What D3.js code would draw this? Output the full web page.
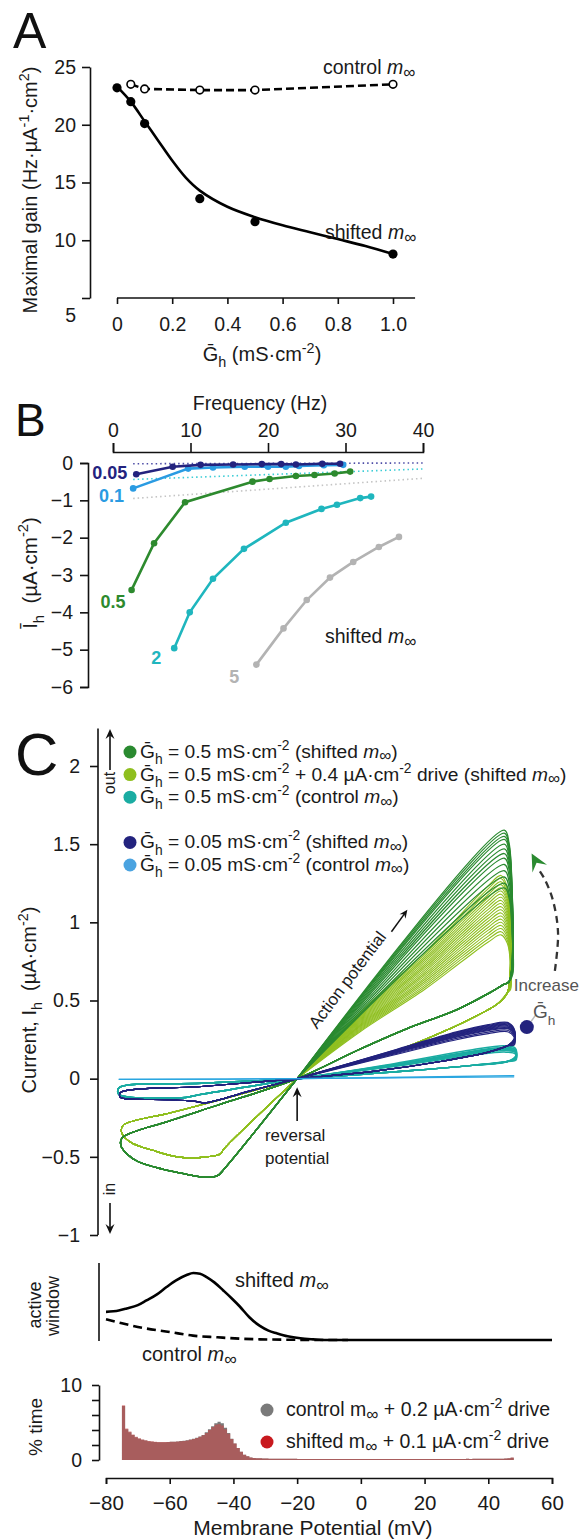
<!DOCTYPE html>
<html><head><meta charset="utf-8">
<script src="https://cdn.jsdelivr.net/npm/d3@7"></script>
<style>
body{margin:0;background:#fff}
svg{display:block;font-family:"Liberation Sans",Arial,Helvetica,sans-serif}
text{white-space:pre}
</style></head><body>
<script>
// ---- panel A : maximal gain vs Gh
const gainG = [0, 0.05, 0.1, 0.3, 0.5, 1.0];
const gainShifted = [23.2, 22.0, 20.1, 13.6, 11.6, 8.8];
const gainControlG = [0.05, 0.1, 0.3, 0.5, 1.0];
const gainControl = [23.5, 23.1, 23.0, 23.0, 23.5];
const fitG = [0, 0.05, 0.1, 0.15, 0.2, 0.25, 0.3, 0.4, 0.5, 0.6, 0.7, 0.8, 0.9, 1.0];
const fitGain = [23.3, 22.0, 20.3, 18.6, 16.9, 15.4, 14.3, 12.9, 12.0, 11.3, 10.7, 10.1, 9.5, 8.8];

// ---- panel B : mean Ih vs frequency
const ihSeries = [
    { label: "0.05", color: "#23237e", f: [3.0, 7.7, 11.3, 15.5, 19.2, 21.7, 23.6, 27.0, 29.3], ih: [-0.3, -0.1, -0.05, -0.04, -0.03, -0.03, -0.04, -0.02, -0.02] },
    { label: "0.1", color: "#2a9be2", f: [2.6, 9.7, 12.9, 17.0, 20.0, 22.3, 24.0, 27.2, 29.7], ih: [-0.68, -0.15, -0.12, -0.1, -0.1, -0.1, -0.08, -0.06, -0.05] },
    { label: "0.5", color: "#2d8a2e", f: [2.4, 5.3, 9.3, 18.0, 20.2, 23.6, 26.0, 28.6, 30.6], ih: [-3.4, -2.15, -1.05, -0.5, -0.43, -0.35, -0.32, -0.28, -0.23] },
    { label: "2", color: "#1fb6be", f: [7.9, 9.9, 12.9, 16.9, 22.3, 26.9, 28.9, 31.9, 33.3], ih: [-4.96, -4.0, -3.1, -2.3, -1.6, -1.23, -1.12, -0.94, -0.9] },
    { label: "5", color: "#b3b3b3", f: [18.5, 22.0, 25.0, 28.0, 31.0, 34.3, 36.9], ih: [-5.4, -4.43, -3.67, -3.07, -2.65, -2.25, -1.98] }
];
const ihRefLines = [
    { color: "#4c4ca6", f: [2.6, 40], ih: [-0.02, 0.0] },
    { color: "#3ccdd6", f: [2.6, 40], ih: [-0.44, -0.16] },
    { color: "#c4c4c4", f: [2.6, 40], ih: [-0.95, -0.41] }
];

// ---- panel C : Ih - V trajectories (profile scaled by each cycle's peak, then a fixed return path)
const ivTraces = [
    { name: "g05drive", color: "#8fbf1f", width: 1.1,
      profile: [[-20, 0], [0, 0.33], [20, 0.62], [32, 0.82], [40, 0.95], [44, 1], [46, 0.94], [47, 0.78], [47, 0.62]],
      back: [[46, 0.55], [43, 0.48], [38, 0.42], [28, 0.32], [10, 0.17], [-20, 0], [-45, -0.14], [-60, -0.22], [-74.7, -0.3],
             [-75, -0.35], [-72, -0.41], [-65, -0.46], [-57.7, -0.5], [-48.3, -0.5], [-44, -0.48], [-43, -0.45], [-20, 0]],
      peaks: [1.3, 1.28, 1.26, 1.24, 1.22, 1.2, 1.18, 1.16, 1.14, 1.12, 1.1, 1.08, 1.06, 1.04, 1.02, 1.0, 0.98, 0.96, 0.94, 0.92] },
    { name: "g05shifted", color: "#2a8a30", width: 1.3,
      profile: [[-20, 0], [45, 1], [46.5, 0.95], [47.5, 0.75], [47.7, 0.55]],
      back: [[46.5, 0.62], [44.6, 0.6], [40.5, 0.55], [30, 0.44], [14.5, 0.32], [-1.2, 0.18], [-20, 0], [-45, -0.17], [-60, -0.27], [-75, -0.38],
             [-75.3, -0.43], [-73.5, -0.48], [-70, -0.53], [-62, -0.58], [-55, -0.61], [-49, -0.63], [-45, -0.62], [-43, -0.58], [-20, 0]],
      peaks: [1.59, 1.57, 1.55, 1.53, 1.5, 1.47, 1.44, 1.41, 1.37, 1.33, 1.29, 1.25, 1.22] },
    { name: "g05control", color: "#1aaca2", width: 1.5,
      profile: [[-20, 0], [10, 0.45], [35, 0.88], [45, 1], [48.5, 0.93], [48.7, 0.7]],
      back: [[46, 0.11], [35, 0.085], [15, 0.05], [-20, 0], [-50, -0.03], [-76, -0.06],
             [-76, -0.1], [-72, -0.12], [-62, -0.125], [-55, -0.12], [-50, -0.1], [-35, -0.05], [-20, 0]],
      peaks: [0.21, 0.2, 0.195, 0.19, 0.185, 0.18, 0.17] },
    { name: "g005shifted", color: "#23237e", width: 1.2,
      profile: [[-20, 0], [10, 0.5], [30, 0.83], [40, 0.96], [46, 1], [48, 0.9], [48.2, 0.72]],
      back: [[46, 0.21], [40, 0.17], [25, 0.11], [5, 0.05], [-20, 0], [-50, -0.05], [-75.5, -0.09],
             [-75.5, -0.12], [-72, -0.13], [-60, -0.135], [-52, -0.145], [-49, -0.155], [-35, -0.08], [-20, 0]],
      peaks: [0.36, 0.355, 0.35, 0.345, 0.34, 0.335, 0.33, 0.325, 0.32, 0.31, 0.30] },
    { name: "g005control", color: "#2aa6e0", width: 1.3,
      profile: [[-20, 0], [48, 1]],
      back: [[-20, 0], [-76, -0.005]],
      peaks: [0.02, 0.012] }
];
const ivLegend = [
    { color: "#2a8a30", parts: [" = 0.5 mS·cm", "-2", " (shifted ", "sh"] },
    { color: "#8fbf1f", parts: [" = 0.5 mS·cm", "-2", " + 0.4 µA·cm", "-2", " drive (shifted ", "sh"] },
    { color: "#1aaca2", parts: [" = 0.5 mS·cm", "-2", " (control ", "sh"] },
    null,
    { color: "#23237e", parts: [" = 0.05 mS·cm", "-2", " (shifted ", "sh"] },
    { color: "#4aa3e0", parts: [" = 0.05 mS·cm", "-2", " (control ", "sh"] }
];

// ---- active window
const winV = [-80, -76, -73.5, -70, -67.3, -64, -61, -58, -54.7, -52.6, -50.5, -48.4, -46, -43.2, -40.5, -38, -35, -31.7, -29, -26.4, -23, -19, -15, -10.8, 0, 20, 40, 60];
const winShifted = [0.42, 0.44, 0.47, 0.52, 0.59, 0.68, 0.79, 0.89, 0.97, 1.0, 0.99, 0.94, 0.86, 0.74, 0.62, 0.5, 0.34, 0.21, 0.14, 0.10, 0.055, 0.025, 0.01, 0, 0, 0, 0, 0];
const winCtlV = [-80, -75, -68.4, -60, -52.7, -45, -38, -31.7, -25, -18, -10, -4];
const winControl = [0.31, 0.25, 0.18, 0.12, 0.065, 0.04, 0.02, 0.01, 0.005, 0.002, 0, 0];

// ---- % time histograms, 1 mV bins starting at -75 mV (last bin 47 mV)
const binStart = -75;
const pctShifted = [7.3, 4.2, 3.8, 3.4, 3.1, 2.9, 2.75, 2.65, 2.55, 2.5, 2.45, 2.4, 2.4, 2.4, 2.4, 2.42, 2.45, 2.48, 2.5,
    2.55, 2.6, 2.7, 2.8, 2.95, 3.1, 3.3, 3.6, 4.0, 4.4, 4.7, 4.8, 4.6, 4.1, 3.5, 2.8, 2.2, 1.6, 1.1, 0.7, 0.5, 0.35, 0.28, 0.24, 0.22, 0.2, 0.19,
    0.18, 0.18, 0.17, 0.17, 0.17, 0.16, 0.16, 0.16, 0.16, 0.15, 0.15, 0.15, 0.15, 0.15, 0.15, 0.14, 0.15, 0.14, 0.14, 0.14,
    0.14, 0.14, 0.14, 0.13, 0.14, 0.13, 0.14, 0.13, 0.13, 0.14, 0.13, 0.13, 0.14, 0.13, 0.13, 0.13, 0.14, 0.13, 0.13, 0.14,
    0.13, 0.14, 0.13, 0.14, 0.14, 0.13, 0.14, 0.14, 0.14, 0.13, 0.14, 0.14, 0.15, 0.14, 0.14, 0.15, 0.14, 0.15, 0.15, 0.15,
    0.15, 0.15, 0.16, 0.15, 0.16, 0.16, 0.16, 0.16, 0.16, 0.17, 0.17, 0.17, 0.17, 0.18, 0.19, 0.22, 0.35];
const pctControl = [7.2, 4.1, 3.7, 3.35, 3.05, 2.85, 2.7, 2.6, 2.5, 2.45, 2.4, 2.38, 2.38, 2.38, 2.4, 2.42, 2.45, 2.48, 2.52,
    2.57, 2.63, 2.72, 2.83, 2.98, 3.15, 3.35, 3.7, 4.1, 4.5, 4.9, 5.1, 4.9, 4.3, 3.6, 2.85, 2.2, 1.6, 1.1, 0.7, 0.5, 0.35, 0.28, 0.24, 0.22, 0.2, 0.19,
    0.18, 0.18, 0.17, 0.17, 0.17, 0.16, 0.16, 0.16, 0.16, 0.15, 0.15, 0.15, 0.15, 0.15, 0.15, 0.14, 0.15, 0.14, 0.14, 0.14,
    0.14, 0.14, 0.14, 0.13, 0.14, 0.13, 0.14, 0.13, 0.13, 0.14, 0.13, 0.13, 0.14, 0.13, 0.13, 0.13, 0.14, 0.13, 0.13, 0.14,
    0.13, 0.14, 0.13, 0.14, 0.14, 0.13, 0.14, 0.14, 0.14, 0.13, 0.14, 0.14, 0.15, 0.14, 0.14, 0.15, 0.14, 0.15, 0.15, 0.15,
    0.15, 0.15, 0.16, 0.15, 0.16, 0.16, 0.16, 0.16, 0.16, 0.17, 0.17, 0.17, 0.17, 0.18, 0.19, 0.22, 0.3];

const svg = d3.select("body").append("svg").attr("width", 583).attr("height", 1540);
const INK = "#111";
const TXT = "#1a1a1a";

// rich text: parts are [text, kind] where kind is "", i, sub, sup, inf
const rich = function (t, parts, fs) {
    let off = 0;
    parts.forEach(p => {
        let target = 0, size = fs;
        if (p[1] === "sub") { target = fs * 0.32; size = fs * 0.72; }
        if (p[1] === "sup") { target = -fs * 0.42; size = fs * 0.72; }
        if (p[1] === "inf") { target = fs * 0.18; size = fs * 0.88; }
        let ts = t.append("tspan").text(p[0]).attr("font-size", size);
        if (target - off !== 0) ts.attr("dy", target - off);
        if (p[1] === "i") ts.attr("font-style", "italic");
        off = target;
    });
    return t;
}
const minf = [["m", "i"], ["∞", "inf"]];

const style_axis = function (g, fs) {
    g.attr("font-family", null).attr("font-size", fs);
    g.selectAll("line,path").attr("stroke", INK).attr("stroke-width", 1.6);
    g.selectAll("text").attr("fill", TXT);
}

const panel_label = (txt, x, y, fs) => svg.append("text").attr("x", x).attr("y", y)
    .attr("font-size", fs).attr("fill", "#111").text(txt);

// ================= A =================
panel_label("A", 13, 48, 50);
let xA = d3.scaleLinear().domain([0, 1]).range([117, 393]);
let yA = d3.scaleLinear().domain([5, 25]).range([298, 67]);

let gxA = svg.append("g").attr("transform", `translate(0,${yA(5)})`)
    .call(d3.axisBottom(xA).tickValues([0, 0.2, 0.4, 0.6, 0.8, 1]).tickFormat(d => d === 0 ? "0" : d3.format(".1f")(d))
        .tickSize(6).tickSizeOuter(0).tickPadding(13));
gxA.select(".domain").remove();
gxA.append("line").attr("x1", xA(0)).attr("x2", xA(1.08));
style_axis(gxA, 19.5);

let gyA = svg.append("g").attr("transform", `translate(90,0)`)
    .call(d3.axisLeft(yA).tickValues([5, 10, 15, 20, 25]).tickSize(8).tickSizeOuter(0).tickPadding(6));
gyA.selectAll(".tick").filter(d => d === 5).select("text").attr("dy", "1.2em");
style_axis(gyA, 19.5);

rich(svg.append("text").attr("text-anchor", "middle").attr("transform", "translate(37,190) rotate(-90)").attr("fill", TXT),
    [["Maximal gain (Hz·µA", ""], ["-1", "sup"], ["·cm", ""], ["2", "sup"], [")", ""]], 20);
rich(svg.append("text").attr("text-anchor", "middle").attr("x", 262).attr("y", 361).attr("fill", TXT),
    [["Ḡ", ""], ["h", "sub"], [" (mS·cm", ""], ["-2", "sup"], [")", ""]], 20);

svg.append("path").datum(fitG.map((g, i) => [g, fitGain[i]]))
    .attr("fill", "none").attr("stroke", "#000").attr("stroke-width", 2.6)
    .attr("d", d3.line().x(d => xA(d[0])).y(d => yA(d[1])).curve(d3.curveCatmullRom.alpha(0.5)));
svg.append("path").datum(gainControlG.map((g, i) => [g, gainControl[i]]))
    .attr("fill", "none").attr("stroke", "#000").attr("stroke-width", 2.6).attr("stroke-dasharray", "8,4")
    .attr("d", d3.line().x(d => xA(d[0])).y(d => yA(d[1])));
svg.selectAll(".ptA").data(gainG.map((g, i) => [g, gainShifted[i]])).join("circle")
    .attr("cx", d => xA(d[0])).attr("cy", d => yA(d[1])).attr("r", 4.6).attr("fill", "#000");
svg.selectAll(".ptAo").data(gainControlG.map((g, i) => [g, gainControl[i]])).join("circle")
    .attr("cx", d => xA(d[0])).attr("cy", d => yA(d[1])).attr("r", 3.8)
    .attr("fill", "#fff").attr("stroke", "#000").attr("stroke-width", 1.6);
rich(svg.append("text").attr("x", 323).attr("y", 74).attr("fill", TXT), [["control ", ""], ...minf], 19.5);
rich(svg.append("text").attr("x", 325).attr("y", 239).attr("fill", TXT), [["shifted ", ""], ...minf], 19.5);

// ================= B =================
panel_label("B", 15, 436, 46);
let xB = d3.scaleLinear().domain([0, 40]).range([113, 423]);
let yB = d3.scaleLinear().domain([-6, 0]).range([687, 463]);

let gxB = svg.append("g").attr("transform", "translate(0,452)")
    .call(d3.axisTop(xB).tickValues([0, 10, 20, 30, 40]).tickSize(9).tickSizeOuter(9).tickPadding(6));
style_axis(gxB, 19.5);
svg.append("text").attr("x", 260).attr("y", 410).attr("text-anchor", "middle").attr("font-size", 19.5)
    .attr("fill", TXT).text("Frequency (Hz)");

let gyB = svg.append("g").attr("transform", "translate(88,0)")
    .call(d3.axisLeft(yB).tickValues([-6, -5, -4, -3, -2, -1, 0]).tickSize(8).tickSizeOuter(8).tickPadding(7)
        .tickFormat(d3.format("d")));
style_axis(gyB, 19.5);
rich(svg.append("text").attr("text-anchor", "middle").attr("transform", "translate(37,573) rotate(-90)").attr("fill", TXT),
    [["Ī", ""], ["h", "sub"], ["  (µA·cm", ""], ["-2", "sup"], [")", ""]], 20.5);

ihRefLines.forEach(r => {
    svg.append("path").datum(r.f.map((f, i) => [f, r.ih[i]]))
        .attr("fill", "none").attr("stroke", r.color).attr("stroke-width", 1.6).attr("stroke-dasharray", "1.5,3")
        .attr("d", d3.line().x(d => xB(d[0])).y(d => yB(d[1])));
});
ihSeries.slice().reverse().forEach(s => {
    let pts = s.f.map((f, i) => [f, s.ih[i]]);
    svg.append("path").datum(pts).attr("fill", "none").attr("stroke", s.color).attr("stroke-width", 2.6)
        .attr("d", d3.line().x(d => xB(d[0])).y(d => yB(d[1])));
    svg.selectAll(null).data(pts).join("circle").attr("cx", d => xB(d[0])).attr("cy", d => yB(d[1]))
        .attr("r", 3.3).attr("fill", s.color);
});
// series labels, placed next to the first point of each series
const ihLabelOffset = { "0.05": [-9, 5], "0.1": [-9, 14], "0.5": [-6, 18], "2": [-13, 16], "5": [-17, 18] };
ihSeries.forEach(s => {
    let o = ihLabelOffset[s.label];
    svg.append("text").attr("x", xB(s.f[0]) + o[0]).attr("y", yB(s.ih[0]) + o[1]).attr("text-anchor", "end")
        .attr("font-size", 18).attr("font-weight", "bold").attr("fill", s.color).text(s.label);
});
rich(svg.append("text").attr("x", 325).attr("y", 643).attr("fill", TXT), [["shifted ", ""], ...minf], 19.5);

// ================= C =================
panel_label("C", 15, 775, 60);
let xC = d3.scaleLinear().domain([-80, 60]).range([106, 552]);
let yC = d3.scaleLinear().domain([-1, 2]).range([1235, 766]);

let gyC = svg.append("g").attr("transform", "translate(98,0)")
    .call(d3.axisLeft(yC).tickValues([-1, -0.5, 0, 0.5, 1, 1.5, 2]).tickSize(8).tickSizeOuter(0).tickPadding(10)
        .tickFormat(d => d3.format("")(d)));
gyC.select(".domain").remove();
gyC.append("line").attr("y1", yC(-1)).attr("y2", yC(2.24));
style_axis(gyC, 19.5);
rich(svg.append("text").attr("text-anchor", "middle").attr("transform", "translate(36,1000) rotate(-90)").attr("fill", TXT),
    [["Current, I", ""], ["h", "sub"], ["  (µA·cm", ""], ["-2", "sup"], [")", ""]], 20);

// out / in arrows
const arrow = function (x1, y1, x2, y2, color, w, L) {
    let a = Math.atan2(y2 - y1, x2 - x1), s = 0.42;
    L = L || 9;
    svg.append("line").attr("x1", x1).attr("y1", y1).attr("x2", x2 - Math.cos(a) * 5).attr("y2", y2 - Math.sin(a) * 5)
        .attr("stroke", color).attr("stroke-width", w);
    svg.append("path").attr("fill", color).attr("d",
        `M${x2},${y2}L${x2 - L * Math.cos(a - s)},${y2 - L * Math.sin(a - s)}L${x2 - L * 0.6 * Math.cos(a)},${y2 - L * 0.6 * Math.sin(a)}L${x2 - L * Math.cos(a + s)},${y2 - L * Math.sin(a + s)}Z`);
}
arrow(110, 770, 110, 729, INK, 1.6, 11);
svg.append("text").attr("transform", "translate(115,783) rotate(-90)").attr("text-anchor", "middle")
    .attr("font-size", 16).attr("fill", TXT).text("out");
arrow(110, 1203, 110, 1234, INK, 1.6, 11);
svg.append("text").attr("transform", "translate(115,1189) rotate(-90)").attr("text-anchor", "middle")
    .attr("font-size", 16).attr("fill", TXT).text("in");

// legend
ivLegend.forEach((l, i) => {
    if (!l) return;
    let y = 752 + i * 22.6;
    svg.append("circle").attr("cx", 130).attr("cy", y).attr("r", 6.5).attr("fill", l.color);
    let parts = [["Ḡ", ""], ["h", "sub"]];
    for (let k = 0; k < l.parts.length; k++) {
        let p = l.parts[k];
        if (p === "sh") parts.push(...minf, [")", ""]);
        else if (p === "-2") parts.push([p, "sup"]);
        else parts.push([p, ""]);
    }
    rich(svg.append("text").attr("x", 140).attr("y", y + 6).attr("fill", TXT), parts, 19.2);
});

// loops
const ivLine = d3.line().x(d => xC(d[0])).y(d => yC(d[1])).curve(d3.curveCatmullRom.alpha(0.5));
ivTraces.forEach(tr => {
    tr.peaks.forEach(pk => {
        let pts = tr.profile.map(p => [p[0], p[1] * pk]).concat(tr.back);
        svg.append("path").datum(pts).attr("fill", "none").attr("stroke", tr.color)
            .attr("stroke-width", tr.width).attr("stroke-linejoin", "round").attr("d", ivLine);
    });
});

// annotations
svg.append("text").attr("transform", `translate(${xC(-2.8)},${yC(0.61)}) rotate(-53)`).attr("text-anchor", "middle")
    .attr("font-size", 17).attr("fill", TXT).text("Action potential");
arrow(xC(9.6), yC(0.94), xC(14.6), yC(1.08), INK, 1.5);

arrow(xC(-20), yC(-0.27), xC(-20), yC(-0.055), INK, 1.6, 11);
svg.append("text").attr("x", xC(-20) - 2).attr("y", yC(-0.4)).attr("text-anchor", "middle")
    .attr("font-size", 17).attr("fill", TXT).text("reversal");
svg.append("text").attr("x", xC(-20)).attr("y", yC(-0.545)).attr("text-anchor", "middle")
    .attr("font-size", 17).attr("fill", TXT).text("potential");

svg.append("line").attr("x1", xC(52.1)).attr("y1", yC(0.33)).attr("x2", xC(55)).attr("y2", yC(0.41))
    .attr("stroke", "#bbb").attr("stroke-width", 1.5);
svg.append("circle").attr("cx", xC(52.1)).attr("cy", yC(0.33)).attr("r", 7).attr("fill", "#23237e");
svg.append("text").attr("x", xC(48)).attr("y", yC(0.56)).attr("font-size", 17).attr("fill", "#555").text("Increase");
rich(svg.append("text").attr("x", xC(54)).attr("y", yC(0.385)).attr("fill", "#555"), [["Ḡ", ""], ["h", "sub"]], 19);
const incArc = [[60.9, 0.69], [61.9, 0.93], [60.3, 1.14], [57.6, 1.28], [55.4, 1.35]];
svg.append("path").datum(incArc).attr("fill", "none").attr("stroke", "#333").attr("stroke-width", 2.3)
    .attr("stroke-dasharray", "7,5").attr("d", d3.line().x(d => xC(d[0])).y(d => yC(d[1])).curve(d3.curveCatmullRom));
(function () {
    let tx = xC(53.6), ty = yC(1.44), a = Math.atan2(ty - yC(1.3), tx - xC(57.3)), L = 19, s = 0.45;
    svg.append("path").attr("fill", "#2a8a30").attr("d",
        `M${tx},${ty}L${tx - L * Math.cos(a - s)},${ty - L * Math.sin(a - s)}L${tx - L * 0.55 * Math.cos(a)},${ty - L * 0.55 * Math.sin(a)}L${tx - L * Math.cos(a + s)},${ty - L * Math.sin(a + s)}Z`);
})();

// ================= active window =================
let yW = d3.scaleLinear().domain([0, 1]).range([1340, 1273]);
svg.append("line").attr("x1", 99).attr("x2", 99).attr("y1", 1263).attr("y2", 1341).attr("stroke", INK).attr("stroke-width", 1.6);
svg.append("path").datum(winCtlV.map((v, i) => [v, winControl[i]])).attr("fill", "none").attr("stroke", "#000")
    .attr("stroke-width", 2.6).attr("stroke-dasharray", "9,5")
    .attr("d", d3.line().x(d => xC(d[0])).y(d => yW(d[1])).curve(d3.curveMonotoneX));
svg.append("path").datum(winV.map((v, i) => [v, winShifted[i]])).attr("fill", "none").attr("stroke", "#000")
    .attr("stroke-width", 2.6).attr("d", d3.line().x(d => xC(d[0])).y(d => yW(d[1])).curve(d3.curveMonotoneX));
svg.append("text").attr("transform", "translate(41,1305) rotate(-90)").attr("text-anchor", "middle")
    .attr("font-size", 18).attr("fill", TXT).text("active");
svg.append("text").attr("transform", "translate(59,1306) rotate(-90)").attr("text-anchor", "middle")
    .attr("font-size", 18).attr("fill", TXT).text("window");
rich(svg.append("text").attr("x", 235).attr("y", 1287).attr("fill", TXT), [["shifted ", ""], ...minf], 20);
rich(svg.append("text").attr("x", 142).attr("y", 1361).attr("fill", TXT), [["control ", ""], ...minf], 20);

// ================= % time =================
let yH = d3.scaleLinear().domain([0, 10]).range([1460, 1385]);
let gyH = svg.append("g").attr("transform", "translate(99,0)")
    .call(d3.axisLeft(yH).tickValues([0, 2, 4, 6, 8, 10]).tickSize(7).tickSizeOuter(0).tickPadding(10)
        .tickFormat(d => (d === 0 || d === 10) ? d : ""));
style_axis(gyH, 19.5);
svg.append("text").attr("transform", "translate(42,1427) rotate(-90)").attr("text-anchor", "middle")
    .attr("font-size", 19).attr("fill", TXT).text("% time");

const hist = function (vals, color, op) {
    let area = d3.area().x(d => xC(d[0])).y0(yH(0)).y1(d => yH(d[1])).curve(d3.curveStepAfter);
    let pts = vals.map((v, i) => [binStart + i, v]);
    pts.push([binStart + vals.length, vals[vals.length - 1]]);
    svg.append("path").datum(pts).attr("fill", color).attr("fill-opacity", op).attr("d", area);
}
hist(pctControl, "#7a7a7a", 1);
hist(pctShifted, "#c64a4a", 0.6);

svg.append("circle").attr("cx", 267).attr("cy", 1410).attr("r", 6.5).attr("fill", "#7a7a7a");
svg.append("circle").attr("cx", 267).attr("cy", 1442).attr("r", 6.5).attr("fill", "#c8191e");
rich(svg.append("text").attr("x", 286).attr("y", 1416).attr("fill", TXT),
    [["control m", ""], ["∞", "inf"], [" + 0.2 µA·cm", ""], ["-2", "sup"], [" drive", ""]], 19.5);
rich(svg.append("text").attr("x", 286).attr("y", 1448).attr("fill", TXT),
    [["shifted m", ""], ["∞", "inf"], [" + 0.1 µA·cm", ""], ["-2", "sup"], [" drive", ""]], 19.5);

// shared membrane potential axis
let gxC = svg.append("g").attr("transform", "translate(0,1478)")
    .call(d3.axisBottom(xC).tickValues([-80, -60, -40, -20, 0, 20, 40, 60]).tickSize(6).tickSizeOuter(6).tickPadding(11)
        .tickFormat(d3.format("d")));
style_axis(gxC, 20.5);
svg.append("text").attr("x", 313).attr("y", 1535).attr("text-anchor", "middle").attr("font-size", 21)
    .attr("fill", TXT).text("Membrane Potential (mV)");
</script>
</body></html>
